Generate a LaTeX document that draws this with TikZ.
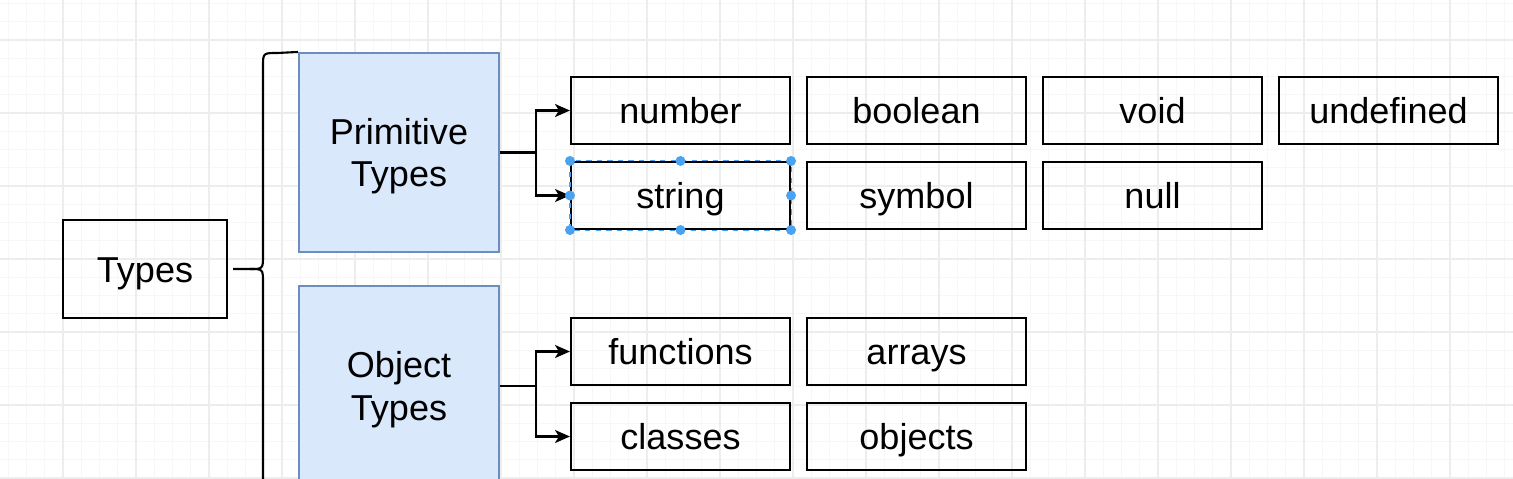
\documentclass[tikz,border=0pt]{standalone}
\usepackage{fontspec}
\setmainfont{Liberation Sans}
\usepackage{xcolor}
\usepackage{tikz}
\usetikzlibrary{arrows.meta}

\definecolor{primfill}{HTML}{DAE8FC}
\definecolor{primline}{HTML}{6C8EBF}
\definecolor{selblue}{HTML}{4AA3F0}
\definecolor{gridminor}{HTML}{F7F7F7}
\definecolor{gridmajor}{HTML}{EDEDED}

\begin{document}
\begin{tikzpicture}[x=0.02cm, y=-0.02cm,
    font=\fontsize{20.5}{24}\selectfont,
    leaf/.style={draw, line width=1.2pt, minimum width=4.38cm, minimum height=1.34cm, inner sep=0pt,
      text height=15pt, text depth=0pt},
    group/.style={draw=primline, fill=primfill, line width=1.2pt, minimum width=4cm, align=center, inner sep=0pt,
      text depth=0pt},
    link/.style={line width=1.2pt, -{Stealth[length=0.3cm, width=0.26cm, inset=0.08cm]}},
    handle/.style={fill=selblue}]
        \clip (0,0) rectangle (1513,478);
        \fill[white] (0,0) rectangle (1513,478);
        \foreach \gx in {0,...,82}
          \draw[gridminor, line width=0.5pt] ({8.25+18.25*\gx},0) -- ({8.25+18.25*\gx},478);
        \foreach \gy in {0,...,26}
          \draw[gridminor, line width=0.5pt] (0,{3.5+18.25*\gy}) -- (1513,{3.5+18.25*\gy});
        \foreach \gx in {0,...,20}
          \draw[gridmajor, line width=0.6pt] ({63+73*\gx},0) -- ({63+73*\gx},478);
        \foreach \gy in {0,...,6}
          \draw[gridmajor, line width=0.6pt] (0,{40+73*\gy}) -- (1513,{40+73*\gy});

        \node[draw, line width=1.2pt, minimum width=3.28cm, minimum height=1.96cm, inner sep=0pt,
          text height=15pt, text depth=0pt] (types) at (145,269) {Types};
        \node[group, minimum height=3.98cm] (prim) at (399,152.5) {Primitive\\Types};
        \node[group, minimum height=4cm] (obj) at (399,386) {Object\\Types};

        \node[leaf] (number) at (680.5,110.5) {number};
        \node[leaf] (boolean) at (916.5,110.5) {boolean};
        \node[leaf] (void) at (1152.5,110.5) {void};
        \node[leaf] (undefined) at (1388.5,110.5) {undefined};
        \node[leaf] (string) at (680.5,195.5) {string};
        \node[leaf] (symbol) at (916.5,195.5) {symbol};
        \node[leaf] (null) at (1152.5,195.5) {null};
        \node[leaf] (functions) at (680.5,351.5) {functions};
        \node[leaf] (arrays) at (916.5,351.5) {arrays};
        \node[leaf] (classes) at (680.5,436.5) {classes};
        \node[leaf] (objects) at (916.5,436.5) {objects};

        \draw[line width=1.2pt] (prim.north west) -- (277,53) .. controls (263,53) .. (263,67)
          -- (263,255) .. controls (263,269) .. (250,269) -- ([xshift=0.1cm]types.east);
        \draw[line width=1.2pt] (250,269) .. controls (263,269) .. (263,283) -- (263,490);

        \draw[link] (prim.east) -- ++(36,0) |- (number.west);
        \draw[link] (prim.east) -- ++(36,0) |- (string.west);
        \draw[link] (obj.east) -- ++(36,0) |- (functions.west);
        \draw[link] (obj.east) -- ++(36,0) |- (classes.west);

        \draw[selblue, dashed, line width=0.6pt] (string.north west) rectangle (string.south east);
        \foreach \p in {north west, north, north east, east, south east, south, south west, west}
          \fill[handle] (string.\p) circle[radius=0.1cm];
      \end{tikzpicture}
\end{document}
